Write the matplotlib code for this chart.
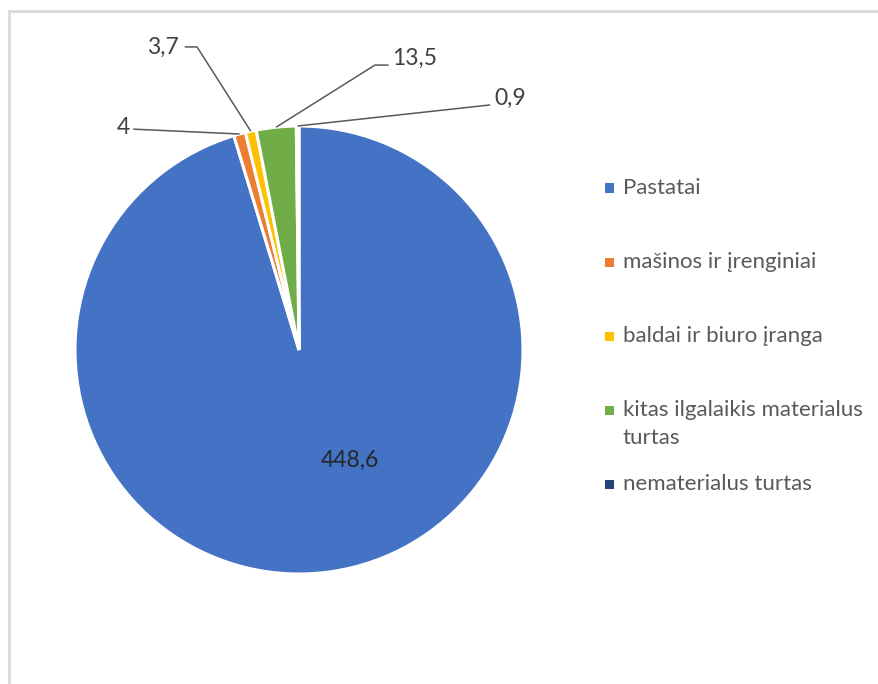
import numpy as np
import matplotlib.pyplot as plt
from matplotlib.patches import Rectangle

# data
labels = ['Pastatai', 'mašinos ir įrenginiai', 'baldai ir biuro įranga',
          'kitas ilgalaikis materialus\nturtas', 'nematerialus turtas']
values = [448.6, 4, 3.7, 13.5, 0.9]
value_text = ['448,6', '4', '3,7', '13,5', '0,9']
colors = ['#4472C4', '#ED7D31', '#FFC000', '#70AD47', '#264478']

plt.rcParams['font.family'] = ['Lato', 'DejaVu Sans']

W, H = 879, 684
fig = plt.figure(figsize=(W / 100, H / 100), dpi=100)

# pie centre / radius in pixels
cx, cy, R = 299, 350, 224
xl = (-1.3, 1.3)
yl = (-1.3, 1.45)
ax = fig.add_axes([(cx + xl[0] * R) / W, (H - cy + yl[0] * R) / H,
                   (xl[1] - xl[0]) * R / W, (yl[1] - yl[0]) * R / H])

wedges, _ = ax.pie(values, colors=colors, startangle=90, counterclock=False,
                   wedgeprops=dict(edgecolor='white', linewidth=2.2))
ax.set_xlim(xl)
ax.set_ylim(yl)

# anchor points on the rim of each wedge
def anchor(w, r=1.0):
    ang = np.deg2rad((w.theta1 + w.theta2) / 2)
    return r * np.cos(ang), r * np.sin(ang)

lab_fs = 16.5
# inside label for the big slice
ax.text(0.228, -0.491, value_text[0], ha='center', va='center',
        fontsize=lab_fs, color='#262626')

# outside labels: text pos, ha, leader points before the rim
outside = {
    1: ((-0.755, 0.992), 'right', [(-0.74, 0.986)]),
    2: ((-0.535, 1.353), 'right', [(-0.51, 1.353), (-0.455, 1.353)]),
    3: ((0.415, 1.30), 'left', [(0.40, 1.272), (0.339, 1.272)]),
    4: ((0.87, 1.125), 'left', [(0.853, 1.094)]),
}
for i, (tpos, ha, pts) in outside.items():
    ax.text(tpos[0], tpos[1], value_text[i], ha=ha, va='center',
            fontsize=lab_fs, color='#404040')
    ax_, ay_ = anchor(wedges[i])
    xs = [p[0] for p in pts] + [ax_]
    ys = [p[1] for p in pts] + [ay_]
    ax.plot(xs, ys, color='#595959', lw=1.1, solid_capstyle='butt')

# legend drawn by hand
leg_x, leg_y, leg_step, line_h = 609.5, 188, 74, 28
for i, lab in enumerate(labels):
    y = leg_y + i * leg_step
    fig.patches.append(Rectangle(((leg_x - 4.5) / W, (H - y - 4.5) / H), 9 / W, 9 / H,
                                 transform=fig.transFigure, facecolor=colors[i],
                                 edgecolor='none'))
    for j, part in enumerate(lab.split('\n')):
        fig.text(623 / W, (H - y - j * line_h) / H, part, ha='left', va='center',
                 fontsize=16, color='#595959')

# chart area border
fig.patches.append(Rectangle((8.5 / W, -0.1), 1.2, (H - 11.5) / H + 0.1,
                             transform=fig.transFigure, fill=False,
                             edgecolor='#d9d9d9', lw=2))

fig.savefig('out.png', dpi=100)
